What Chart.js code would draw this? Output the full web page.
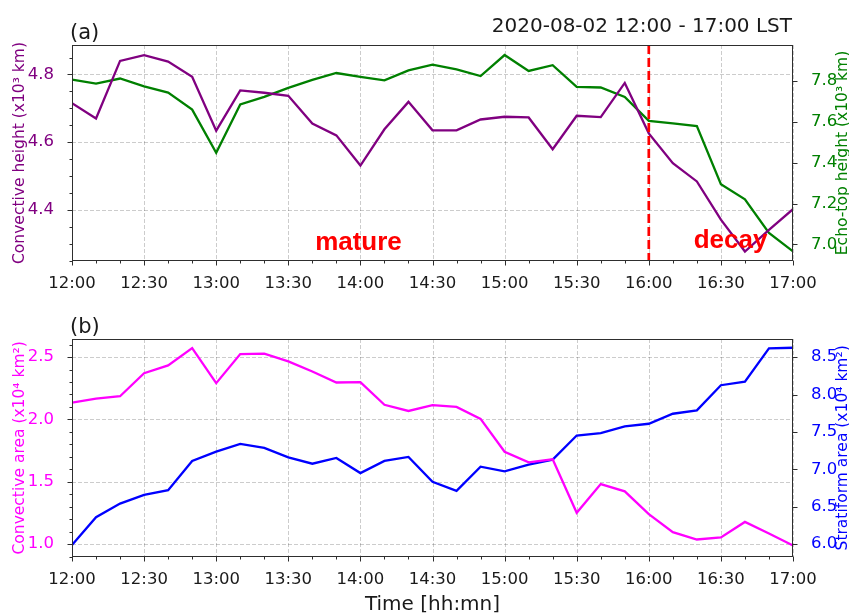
<!DOCTYPE html>
<html>
<head>
<meta charset="utf-8">
<title>Convective and stratiform evolution, 2020-08-02</title>
<script src="https://cdn.jsdelivr.net/npm/chart.js@4.4.1/dist/chart.umd.min.js"></script>
<style>
  html, body { margin: 0; padding: 0; background: #ffffff; }
  #wrap { position: relative; width: 849px; height: 613px; overflow: hidden; }
  canvas { position: absolute; left: 0; }
  #panelA { top: 0; }
  #panelB { top: 300px; }
</style>
</head>
<body>
<div id="wrap">
  <canvas id="panelA" width="849" height="300"></canvas>
  <canvas id="panelB" width="849" height="313"></canvas>
</div>
<script>
// Sample times (10-minute steps, local standard time)
const times = [
  "12:00", "12:10", "12:20", "12:30", "12:40", "12:50",
  "13:00", "13:10", "13:20", "13:30", "13:40", "13:50",
  "14:00", "14:10", "14:20", "14:30", "14:40", "14:50",
  "15:00", "15:10", "15:20", "15:30", "15:40", "15:50",
  "16:00", "16:10", "16:20", "16:30", "16:40", "16:50",
  "17:00"
];

// (a) convective height and echo-top height, x10^3 km
const convectiveHeight = [
  4.715, 4.670, 4.840, 4.857, 4.838, 4.793,
  4.634, 4.753, 4.746, 4.737, 4.655, 4.620,
  4.531, 4.638, 4.719, 4.635, 4.635, 4.667,
  4.675, 4.673, 4.579, 4.678, 4.674, 4.775,
  4.626, 4.538, 4.484, 4.371, 4.277, 4.341,
  4.402
];
const echoTopHeight = [
  7.807, 7.787, 7.812, 7.774, 7.743, 7.660,
  7.449, 7.685, 7.722, 7.766, 7.805, 7.839,
  7.820, 7.803, 7.852, 7.880, 7.857, 7.824,
  7.927, 7.849, 7.877, 7.771, 7.768, 7.722,
  7.605, 7.592, 7.579, 7.295, 7.221, 7.056,
  6.966
];

// (b) convective and stratiform area, x10^4 km^2
const convectiveArea = [
  2.135, 2.167, 2.186, 2.371, 2.433, 2.572,
  2.291, 2.524, 2.527, 2.465, 2.384, 2.296,
  2.299, 2.117, 2.068, 2.114, 2.100, 2.004,
  1.741, 1.656, 1.680, 1.251, 1.481, 1.423,
  1.240, 1.096, 1.037, 1.053, 1.178, 1.085,
  0.989
];
const stratiformArea = [
  5.987, 6.359, 6.542, 6.659, 6.722, 7.112,
  7.237, 7.340, 7.286, 7.160, 7.075, 7.152,
  6.950, 7.112, 7.165, 6.833, 6.712, 7.035,
  6.972, 7.062, 7.129, 7.452, 7.483, 7.573,
  7.609, 7.743, 7.788, 8.124, 8.173, 8.617,
  8.625
];

// Tick labels
const timeTicks = ["12:00", "12:30", "13:00", "13:30", "14:00", "14:30",
                   "15:00", "15:30", "16:00", "16:30", "17:00"];
const heightTicks = [4.4, 4.6, 4.8];
const echoTopTicks = [7.0, 7.2, 7.4, 7.6, 7.8];
const convAreaTicks = [1.0, 1.5, 2.0, 2.5];
const stratAreaTicks = [6.0, 6.5, 7.0, 7.5, 8.0, 8.5];

// Phase boundary between the mature and decay stages
const decayStart = "16:00";

const FONT = "'DejaVu Sans', 'Liberation Sans', sans-serif";
const FRAME = '#2e2e2e';
const GRID = 'rgba(0,0,0,0.2)';
const C_PURPLE = '#800080', C_GREEN = '#008000', C_MAGENTA = '#ff00ff', C_BLUE = '#0000ff';

Chart.defaults.font.family = FONT;

function toMin(t) {
  const [h, m] = t.split(':').map(Number);
  return (h - 12) * 60 + m;
}
function series(values) {
  return times.map((t, i) => ({ x: toMin(t), y: values[i] }));
}

function line(ctx, x1, y1, x2, y2) {
  ctx.beginPath(); ctx.moveTo(x1, y1); ctx.lineTo(x2, y2); ctx.stroke();
}

function vText(ctx, text, x, y, color, size) {
  ctx.save();
  ctx.translate(x, y);
  ctx.rotate(-Math.PI / 2);
  ctx.font = size + 'px ' + FONT;
  ctx.fillStyle = color;
  ctx.textAlign = 'center';
  ctx.textBaseline = 'middle';
  ctx.fillText(text, 0, 0);
  ctx.restore();
}

// Grid, frame, tick marks, axis titles and annotations for one panel
function panelDecor(spec) {
  return {
    id: 'decor',
    beforeDatasetsDraw(chart) {
      const { ctx, chartArea: a } = chart;
      const xs = chart.scales.x, yL = chart.scales.yL;
      ctx.save();
      ctx.strokeStyle = GRID;
      ctx.lineWidth = 1;
      ctx.setLineDash([4, 2]);
      timeTicks.forEach(t => {
        const px = Math.round(xs.getPixelForValue(toMin(t))) + 0.5;
        line(ctx, px, a.top, px, a.bottom);
      });
      spec.leftTicks.forEach(v => {
        const py = Math.round(yL.getPixelForValue(v)) + 0.5;
        line(ctx, a.left, py, a.right, py);
      });
      ctx.restore();
    },
    afterDatasetsDraw(chart) {
      if (spec.overlay) spec.overlay(chart);
    },
    afterDraw(chart) {
      const { ctx, chartArea: a } = chart;
      const xs = chart.scales.x, yL = chart.scales.yL, yR = chart.scales.yR;
      ctx.save();
      ctx.setLineDash([]);
      ctx.strokeStyle = FRAME;
      ctx.lineWidth = 1;
      const L = Math.round(a.left) + 0.5, R = Math.round(a.right) - 0.5;
      const T = Math.round(a.top) + 0.5, B = Math.round(a.bottom) - 0.5;
      ctx.strokeRect(L, T, R - L, B - T);
      // x tick marks: majors every 30 min, minors every 10 min
      times.forEach(t => {
        const m = toMin(t);
        const px = Math.round(xs.getPixelForValue(m)) + 0.5;
        line(ctx, px, B, px, B + (m % 30 === 0 ? 5 : 3));
      });
      // left axis ticks
      spec.leftMinor.forEach(v => {
        const py = Math.round(yL.getPixelForValue(v)) + 0.5;
        line(ctx, L - 3, py, L, py);
      });
      spec.leftTicks.forEach(v => {
        const py = Math.round(yL.getPixelForValue(v)) + 0.5;
        line(ctx, L - 5, py, L, py);
      });
      // right axis ticks
      spec.rightTicks.forEach(v => {
        const py = Math.round(yR.getPixelForValue(v)) + 0.5;
        line(ctx, R, py, R + 5, py);
      });
      ctx.restore();

      const yc = (a.top + a.bottom) / 2;
      vText(ctx, spec.leftTitle, 20, yc, spec.leftColor, 15.5);
      vText(ctx, spec.rightTitle, 842.5, yc, spec.rightColor, 15.5);

      ctx.save();
      ctx.fillStyle = '#1a1a1a';
      ctx.textBaseline = 'alphabetic';
      spec.headers.forEach(h => {
        ctx.font = h.size + 'px ' + FONT;
        ctx.textAlign = h.align;
        ctx.fillText(h.text, h.x, h.y);
      });
      ctx.restore();
    }
  };
}

function makePanel(canvasId, cfg) {
  const numFmt = v => Number(v).toFixed(1);
  return new Chart(document.getElementById(canvasId), {
    type: 'line',
    data: {
      datasets: [
        { data: series(cfg.leftData), yAxisID: 'yL', borderColor: cfg.leftColor,
          borderWidth: 2.3, pointRadius: 0, tension: 0, fill: false },
        { data: series(cfg.rightData), yAxisID: 'yR', borderColor: cfg.rightColor,
          borderWidth: 2.3, pointRadius: 0, tension: 0, fill: false }
      ]
    },
    options: {
      responsive: false,
      animation: false,
      events: [],
      layout: { padding: { top: cfg.top, left: 0, right: 0, bottom: 0 } },
      plugins: { legend: { display: false }, tooltip: { enabled: false }, title: { display: false } },
      scales: {
        x: {
          type: 'linear', position: 'bottom', min: 0, max: 300,
          grid: { display: false }, border: { display: false },
          afterBuildTicks: s => { s.ticks = timeTicks.map(t => ({ value: toMin(t) })); },
          afterFit: s => { s.height = cfg.xHeight; },
          ticks: { padding: 5, color: '#1a1a1a', font: { size: 16.5 }, maxRotation: 0,
                   autoSkip: false, callback: (v, i) => timeTicks[i] }
        },
        yL: {
          type: 'linear', position: 'left', min: cfg.leftMin, max: cfg.leftMax,
          grid: { display: false }, border: { display: false },
          afterBuildTicks: s => { s.ticks = cfg.leftTicks.map(v => ({ value: v })); },
          afterFit: s => { s.width = 72; },
          ticks: { padding: 10, color: cfg.leftColor, font: { size: 16.5 }, callback: numFmt }
        },
        yR: {
          type: 'linear', position: 'right', min: cfg.rightMin, max: cfg.rightMax,
          grid: { display: false }, border: { display: false },
          afterBuildTicks: s => { s.ticks = cfg.rightTicks.map(v => ({ value: v })); },
          afterFit: s => { s.width = 56; },
          ticks: { padding: 10, color: cfg.rightColor, font: { size: 16.5 }, callback: numFmt }
        }
      }
    },
    plugins: [panelDecor(cfg)]
  });
}

function minorTicks(lo, hi, step) {
  const out = [];
  for (let k = Math.ceil(lo / step - 1e-9); k * step <= hi + 1e-9; k++) out.push(+(k * step).toFixed(3));
  return out;
}

// (a) heights
makePanel('panelA', {
  top: 45, xHeight: 39,
  leftData: convectiveHeight, rightData: echoTopHeight,
  leftColor: C_PURPLE, rightColor: C_GREEN,
  leftMin: 4.249, leftMax: 4.887, rightMin: 6.919, rightMax: 7.976,
  leftTicks: heightTicks, rightTicks: echoTopTicks,
  leftMinor: minorTicks(4.25, 4.885, 0.05),
  leftTitle: 'Convective height (x10³ km)',
  rightTitle: 'Echo-top height (x10³ km)',
  headers: [
    { text: '(a)', x: 70, y: 39, size: 21, align: 'left' },
    { text: '2020-08-02 12:00 - 17:00 LST', x: 792, y: 31.5, size: 20, align: 'right' }
  ],
  overlay(chart) {
    const { ctx, chartArea: a } = chart;
    const xs = chart.scales.x, yL = chart.scales.yL;
    ctx.save();
    ctx.strokeStyle = '#ff0000';
    ctx.lineWidth = 2.7;
    ctx.setLineDash([9, 4]);
    const px = xs.getPixelForValue(toMin(decayStart));
    line(ctx, px, a.top, px, a.bottom);
    ctx.setLineDash([]);
    ctx.fillStyle = '#ff0000';
    ctx.font = 'bold 26px "Liberation Sans", Arial, sans-serif';
    ctx.textAlign = 'center';
    ctx.textBaseline = 'alphabetic';
    ctx.fillText('mature', xs.getPixelForValue(119.2), yL.getPixelForValue(4.282));
    ctx.fillText('decay', xs.getPixelForValue(274), yL.getPixelForValue(4.287));
    ctx.restore();
  }
});

// (b) areas
makePanel('panelB', {
  top: 39, xHeight: 56.3,
  leftData: convectiveArea, rightData: stratiformArea,
  leftColor: C_MAGENTA, rightColor: C_BLUE,
  leftMin: 0.899, leftMax: 2.645, rightMin: 5.832, rightMax: 8.742,
  leftTicks: convAreaTicks, rightTicks: stratAreaTicks,
  leftMinor: minorTicks(0.9, 2.64, 0.1),
  leftTitle: 'Convective area (x10⁴ km²)',
  rightTitle: 'Stratiform area (x10⁴ km²)',
  headers: [
    { text: '(b)', x: 70, y: 33, size: 21, align: 'left' },
    { text: 'Time [hh:mn]', x: 432.5, y: 310, size: 20, align: 'center' }
  ]
});
</script>
</body>
</html>
